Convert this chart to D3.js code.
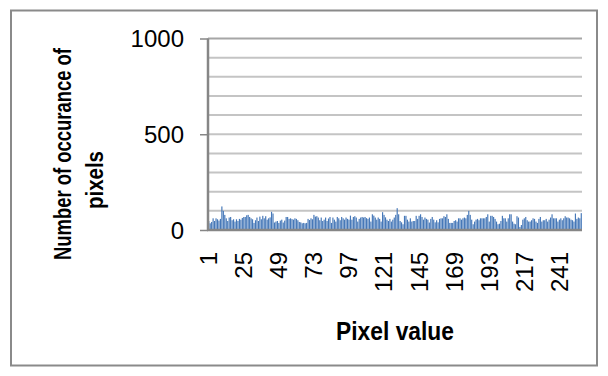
<!DOCTYPE html>
<html>
<head>
<meta charset="utf-8">
<script src="https://cdn.jsdelivr.net/npm/d3@7"></script>
<style>
  html, body { margin: 0; padding: 0; background: #fff; }
  svg { display: block; }
</style>
</head>
<body>
<svg id="chart" width="608" height="376"></svg>
<script>
// Histogram of pixel intensities: occurrences for pixel values 1..256
const pixelValues = d3.range(1, 257);
const occurrences = [
  47,35,42,61,47,61,56,49,58,123,
  100,79,61,47,65,68,51,56,44,56,
  47,58,54,63,68,68,77,79,68,61,
  56,37,51,65,47,70,56,74,61,72,
  54,61,66,95,86,39,44,47,37,49,
  54,39,49,68,68,58,61,57,54,61,
  58,51,42,40,35,37,35,37,58,52,
  61,56,79,70,72,65,51,65,47,54,
  65,47,60,68,37,65,54,44,68,61,
  51,68,61,54,65,58,54,75,54,68,
  72,65,44,58,65,68,65,68,62,58,
  65,44,82,75,65,54,65,58,44,93,
  79,66,54,47,58,44,54,65,79,114,
  82,47,40,30,74,74,54,44,61,44,
  47,47,74,58,74,82,68,54,65,58,
  54,39,58,68,54,40,51,40,58,61,
  61,72,68,82,58,37,37,37,47,51,
  44,61,61,54,61,65,61,79,100,79,
  54,30,44,54,58,51,61,61,61,61,
  68,82,44,74,74,68,58,44,30,33,
  47,74,61,61,44,61,82,82,44,33,
  30,72,65,16,26,54,61,68,51,44,
  44,51,61,58,44,37,58,68,44,51,
  51,58,44,54,65,82,61,61,61,44,
  54,61,51,61,72,65,65,61,54,51,
  44,86,58,65,61,88
];
const yTickValues = [0, 500, 1000];
const yGridValues = d3.range(100, 1001, 100);
const xTickLabels = [1, 25, 49, 73, 97, 121, 145, 169, 193, 217, 241];
const yTitleLines = ["Number of occurance of", "pixels"];
const xTitle = "Pixel value";

const svg = d3.select("#chart");

// outer chart frame
svg.append("rect")
  .attr("x", 11).attr("y", 10.5)
  .attr("width", 586).attr("height", 355)
  .attr("fill", "#fff")
  .attr("stroke", "#8a8a8a")
  .attr("stroke-width", 2);

const plot = { left: 208, right: 582, top: 38.5, bottom: 230 };

const x = d3.scaleBand()
  .domain(pixelValues)
  .range([plot.left, plot.right])
  .paddingInner(0.2)
  .paddingOuter(0.1);

const y = d3.scaleLinear()
  .domain([0, 1000])
  .range([plot.bottom, plot.top]);

// horizontal gridlines
svg.append("g")
  .selectAll("line")
  .data(yGridValues)
  .join("line")
  .attr("x1", plot.left)
  .attr("x2", plot.right)
  .attr("y1", d => y(d))
  .attr("y2", d => y(d))
  .attr("stroke", d => d === 1000 ? "#a6a6a6" : "#c4c4c4")
  .attr("stroke-width", 2);

// bars
svg.append("g")
  .selectAll("rect")
  .data(pixelValues)
  .join("rect")
  .attr("x", d => x(d))
  .attr("width", x.bandwidth())
  .attr("y", (d, i) => y(occurrences[i]))
  .attr("height", (d, i) => y(0) - y(occurrences[i]))
  .attr("fill", "#4678b8");

// y axis
const yAxis = d3.axisLeft(y)
  .tickValues(yTickValues)
  .tickSize(8)
  .tickPadding(16)
  .tickFormat(d3.format("d"));

const yAxisG = svg.append("g")
  .attr("transform", `translate(${plot.left},0)`)
  .call(yAxis);
yAxisG.select(".domain")
  .attr("stroke", "#868686")
  .attr("stroke-width", 2.5)
  .attr("d", `M0,${plot.top}V${plot.bottom + 1}`);
yAxisG.selectAll(".tick line")
  .attr("stroke", "#868686")
  .attr("stroke-width", 1.5);
yAxisG.selectAll(".tick text")
  .attr("fill", "#000")
  .attr("font-family", "'Liberation Sans', Arial, sans-serif")
  .attr("font-size", 24)
  .attr("dy", "0.35em");

// x axis line
svg.append("line")
  .attr("x1", plot.left - 1)
  .attr("x2", plot.right)
  .attr("y1", plot.bottom)
  .attr("y2", plot.bottom)
  .attr("stroke", "#868686")
  .attr("stroke-width", 2.5);

// x tick labels, rotated
svg.append("g")
  .selectAll("text")
  .data(xTickLabels)
  .join("text")
  .attr("transform", d => `translate(${x(d) + x.bandwidth() / 2},252) rotate(-90)`)
  .attr("text-anchor", "end")
  .attr("dy", "0.35em")
  .attr("font-family", "'Liberation Sans', Arial, sans-serif")
  .attr("font-size", 24)
  .attr("fill", "#000")
  .text(d => d);

// axis titles: bold, horizontally condensed to a target run length
const titleFont = "'Liberation Sans', Arial, sans-serif";
function condense(sel, targetLen) {
  const natural = sel.node().getComputedTextLength();
  return natural > 0 ? Math.min(1, targetLen / natural) : 1;
}

const yTitleLayout = [
  { bx: 71, cy: 154, len: 212 },
  { bx: 103, cy: 180, len: 58 }
];
yTitleLines.forEach((line, i) => {
  const t = svg.append("text")
    .attr("text-anchor", "middle")
    .attr("font-family", titleFont)
    .attr("font-weight", "bold")
    .attr("font-size", 23)
    .attr("fill", "#000")
    .text(line);
  const k = condense(t, yTitleLayout[i].len);
  t.attr("transform",
    `translate(${yTitleLayout[i].bx},${yTitleLayout[i].cy}) rotate(-90) scale(${k},1)`);
});

const xt = svg.append("text")
  .attr("text-anchor", "middle")
  .attr("font-family", titleFont)
  .attr("font-weight", "bold")
  .attr("font-size", 25)
  .attr("fill", "#000")
  .text(xTitle);
const kx = condense(xt, 118);
xt.attr("transform", `translate(${(plot.left + plot.right) / 2},340) scale(${kx},1)`);
</script>
</body>
</html>
